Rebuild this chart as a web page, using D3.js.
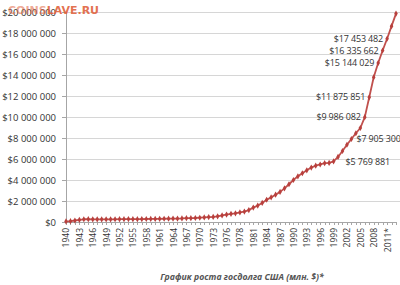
<!DOCTYPE html>
<meta charset="utf-8">
<title>Госдолг США</title>
<html>
<style>
body { margin: 0; background: #fff; }
svg { display: block; }
.axis text { font-family: "Open Sans", sans-serif; fill: #333; }
</style>
<body>
<svg width="400" height="285"></svg>
<script src="https://d3js.org/d3.v7.min.js"></script>
<script>
// categories as they appear on the x axis (every 3rd one is labelled)
var categories = [
  "1940","1941","1942","1943","1944","1945","1946","1947","1948","1949",
  "1950","1951","1952","1953","1954","1955","1956","1957","1958","1959",
  "1960","1961","1962","1963","1964","1965","1966","1967","1968","1969",
  "1970","1971","1972","1973","1974","1975","1976","TQ","1977","1978",
  "1979","1980","1981","1982","1983","1984","1985","1986","1987","1988",
  "1989","1990","1991","1992","1993","1994","1995","1996","1997","1998",
  "1999","2000","2001","2002","2003","2004","2005","2006","2007","2008",
  "2009","2010","2011*","2012*","2013*"
];

// debt, $ millions
var debt = [
  58000, 79000, 143000, 204000, 260000, 271000, 257000, 252000, 253000, 257000,
  255000, 259000, 266000, 271000, 274000, 273000, 272000, 280000, 287000, 291000,
  293000, 303000, 310000, 316000, 322000, 328000, 340000, 369000, 366000, 381000,
  408000, 436000, 466000, 484000, 542000, 629000, 706000, 777000, 829000, 909000,
  995000, 1137000, 1372000, 1565000, 1817000, 2121000, 2346000, 2601000, 2868000, 3206000,
  3598000, 4002000, 4351000, 4643000, 4921000, 5181000, 5369000, 5478000, 5606000, 5629000,
  5769881, 6198000, 6760000, 7355000, 7905300, 8451000, 8951000, 9986082, 11875851, 13787000,
  15144029, 16335662, 17453482, 18650000, 19850000
];

// which points carry a value label, and on which side
var labelIndex = [60, 64, 67, 68, 70, 71, 72];
var labelSide  = ["right", "right", "left", "left", "left", "left", "left"];

var yTicks = [0, 2000000, 4000000, 6000000, 8000000, 10000000, 12000000, 14000000, 16000000, 18000000, 20000000];

var title = "График роста госдолга США (млн. $)*";

var svg = d3.select("svg"),
    plotLeft = 66, plotRight = 396, plotTop = 12, plotBottom = 222;

var locale = d3.formatLocale({decimal: ",", thousands: " ", grouping: [3], currency: ["$", ""]});
var fmt = locale.format("$,.0f");

var x = d3.scalePoint().domain(categories).range([plotLeft, plotRight]);
var y = d3.scaleLinear().domain([0, 20000000]).range([plotBottom, plotTop]);

// gridlines
svg.append("g")
  .selectAll("line")
  .data(yTicks.slice(1))
  .enter().append("line")
    .attr("x1", plotLeft).attr("x2", 400)
    .attr("y1", function(d) { return Math.round(y(d)) + 0.5; })
    .attr("y2", function(d) { return Math.round(y(d)) + 0.5; })
    .attr("stroke", "#d6d6d6");

// y axis
var gy = svg.append("g")
  .attr("class", "axis")
  .attr("transform", "translate(" + plotLeft + ",0)")
  .call(d3.axisLeft(y).tickValues(yTicks).tickFormat(fmt).tickSize(4).tickPadding(6));
gy.selectAll("text").attr("font-size", 9.5);
gy.selectAll("line, path").attr("stroke", "#a6a6a6").attr("shape-rendering", "crispEdges");

// x axis
var gx = svg.append("g")
  .attr("class", "axis")
  .attr("transform", "translate(0," + plotBottom + ")")
  .call(d3.axisBottom(x).tickSize(3).tickSizeOuter(0)
    .tickFormat(function(d, i) { return i % 3 === 0 ? d : ""; }));
gx.selectAll("line, path").attr("stroke", "#a6a6a6").attr("shape-rendering", "crispEdges");
gx.selectAll("text")
  .attr("font-size", 8.5)
  .attr("transform", "rotate(-90)")
  .attr("text-anchor", "end")
  .attr("x", -6)
  .attr("y", 0)
  .attr("dy", "0.35em");

// line + markers
var red = "#c0504d";
var line = d3.line()
  .x(function(d, i) { return x(categories[i]); })
  .y(function(d) { return y(d); });

svg.append("path")
  .datum(debt)
  .attr("fill", "none")
  .attr("stroke", red)
  .attr("stroke-width", 1.8)
  .attr("stroke-linejoin", "round")
  .attr("d", line);

svg.append("g")
  .selectAll("path")
  .data(debt)
  .enter().append("path")
    .attr("transform", function(d, i) { return "translate(" + x(categories[i]) + "," + y(d) + ")"; })
    .attr("d", d3.symbol(d3.symbolDiamond, 11))
    .attr("fill", "#b8403d");

// value labels (the 2001 label sits a bit further out in the original)
svg.append("g")
  .selectAll("text")
  .data(labelIndex)
  .enter().append("text")
    .attr("x", function(d, k) {
      var px = x(categories[d]);
      if (labelSide[k] === "left") return px - 4;
      return px + (d === 60 ? 12 : 5);
    })
    .attr("y", function(d) { return y(debt[d]); })
    .attr("dy", "0.35em")
    .attr("text-anchor", function(d, k) { return labelSide[k] === "left" ? "end" : "start"; })
    .attr("font-family", "Open Sans, sans-serif")
    .attr("font-size", 9)
    .attr("letter-spacing", -0.15)
    .attr("fill", "#333")
    .text(function(d) { return fmt(debt[d]); });

// caption
svg.append("text")
  .attr("x", 242)
  .attr("y", 280)
  .attr("text-anchor", "middle")
  .attr("font-family", "Open Sans, sans-serif")
  .attr("font-size", 8.7)
  .attr("font-weight", "bold")
  .attr("font-style", "italic")
  .attr("fill", "#555")
  .text(title);

// watermark
var wm = svg.append("text")
  .attr("x", 8)
  .attr("y", 14)
  .attr("font-family", "DejaVu Sans, sans-serif")
  .attr("font-size", 11)
  .attr("font-weight", "bold")
  .attr("fill", "#e0603a");
wm.append("tspan").attr("fill-opacity", 0.55).text("COINS");
wm.append("tspan").attr("fill-opacity", 0.9).text("LAVE.RU");
</script>
</body>
</html>
